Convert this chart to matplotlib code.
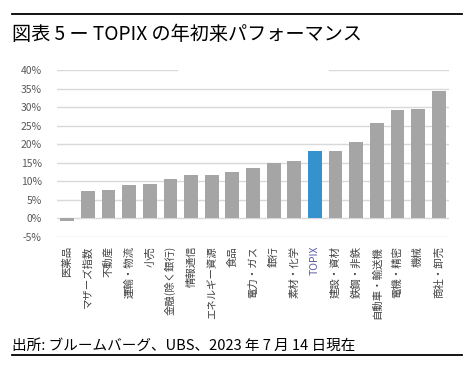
import matplotlib.pyplot as plt
import numpy as np

plt.rcParams['font.family'] = ['Noto Sans CJK JP', 'DejaVu Sans']

# データ (2023年7月14日時点の年初来リターン, %)
sectors = ['医薬品', 'マザーズ指数', '不動産', '運輸・物流', '小売', '金融(除く銀行)',
           '情報通信', 'エネルギー資源', '食品', '電力・ガス', '銀行', '素材・化学',
           'TOPIX', '建設・資材', '鉄鋼・非鉄', '自動車・輸送機', '電機・精密',
           '機械', '商社・卸売']
returns = [-0.6, 7.3, 7.6, 9.1, 9.4, 10.7, 11.8, 11.8, 12.6, 13.7, 14.9, 15.6,
           18.3, 18.3, 20.7, 25.8, 29.3, 29.5, 34.4]
yticks = [-5, 0, 5, 10, 15, 20, 25, 30, 35, 40]
ytick_labels = ['-5%', '0%', '5%', '10%', '15%', '20%', '25%', '30%', '35%', '40%']

W, H = 476, 368
fig = plt.figure(figsize=(W / 100, H / 100), dpi=100)

# 枠線と見出し
fig.add_artist(plt.Line2D([12 / W, 462 / W], [1 - 14 / H, 1 - 14 / H],
                          color='black', lw=1.3))
fig.add_artist(plt.Line2D([12 / W, 462 / W], [1 - 355 / H, 1 - 355 / H],
                          color='black', lw=1.3))
fig.text(12 / W, 1 - 34 / H, '図表 5 ー TOPIX の年初来パフォーマンス',
         fontsize=13.8, va='center', ha='left', color='black')
fig.text(12 / W, 1 - 346 / H, '出所: ブルームバーグ、UBS、2023 年 7 月 14 日現在',
         fontsize=10.5, va='center', ha='left', color='black')

ax = fig.add_axes([57 / W, 1 - 237 / H, 392 / W, 167 / H])
x = np.arange(len(sectors))
colors = ['#3592CD' if s == 'TOPIX' else '#A5A5A5' for s in sectors]
ax.bar(x, returns, width=0.67, color=colors, zorder=3)

ax.set_xlim(-0.5, len(sectors) - 0.5)
ax.set_ylim(-5, 40)

# グリッド線 (40% の線は中央が途切れている)
for v in yticks:
    if v == 40:
        ax.axhline(v, xmin=0, xmax=120 / 392, color='#D9D9D9', lw=1, zorder=1)
        ax.axhline(v, xmin=272 / 392, xmax=1, color='#D9D9D9', lw=1, zorder=1)
    else:
        ax.axhline(v, color='#D9D9D9', lw=1, zorder=1)

for s in ax.spines.values():
    s.set_visible(False)

ax.set_yticks(yticks)
ax.set_yticklabels(ytick_labels)
ax.tick_params(axis='y', length=0, pad=11, labelsize=7.5, labelcolor='#595959')
ax.set_xticks([])

for i, name in enumerate(sectors):
    c = '#5B5BA8' if name == 'TOPIX' else '#404040'
    ax.text(i, -7.4, name, rotation=90, ha='center', va='top', fontsize=7.5,
            color=c)

fig.savefig('out.png', dpi=100)
